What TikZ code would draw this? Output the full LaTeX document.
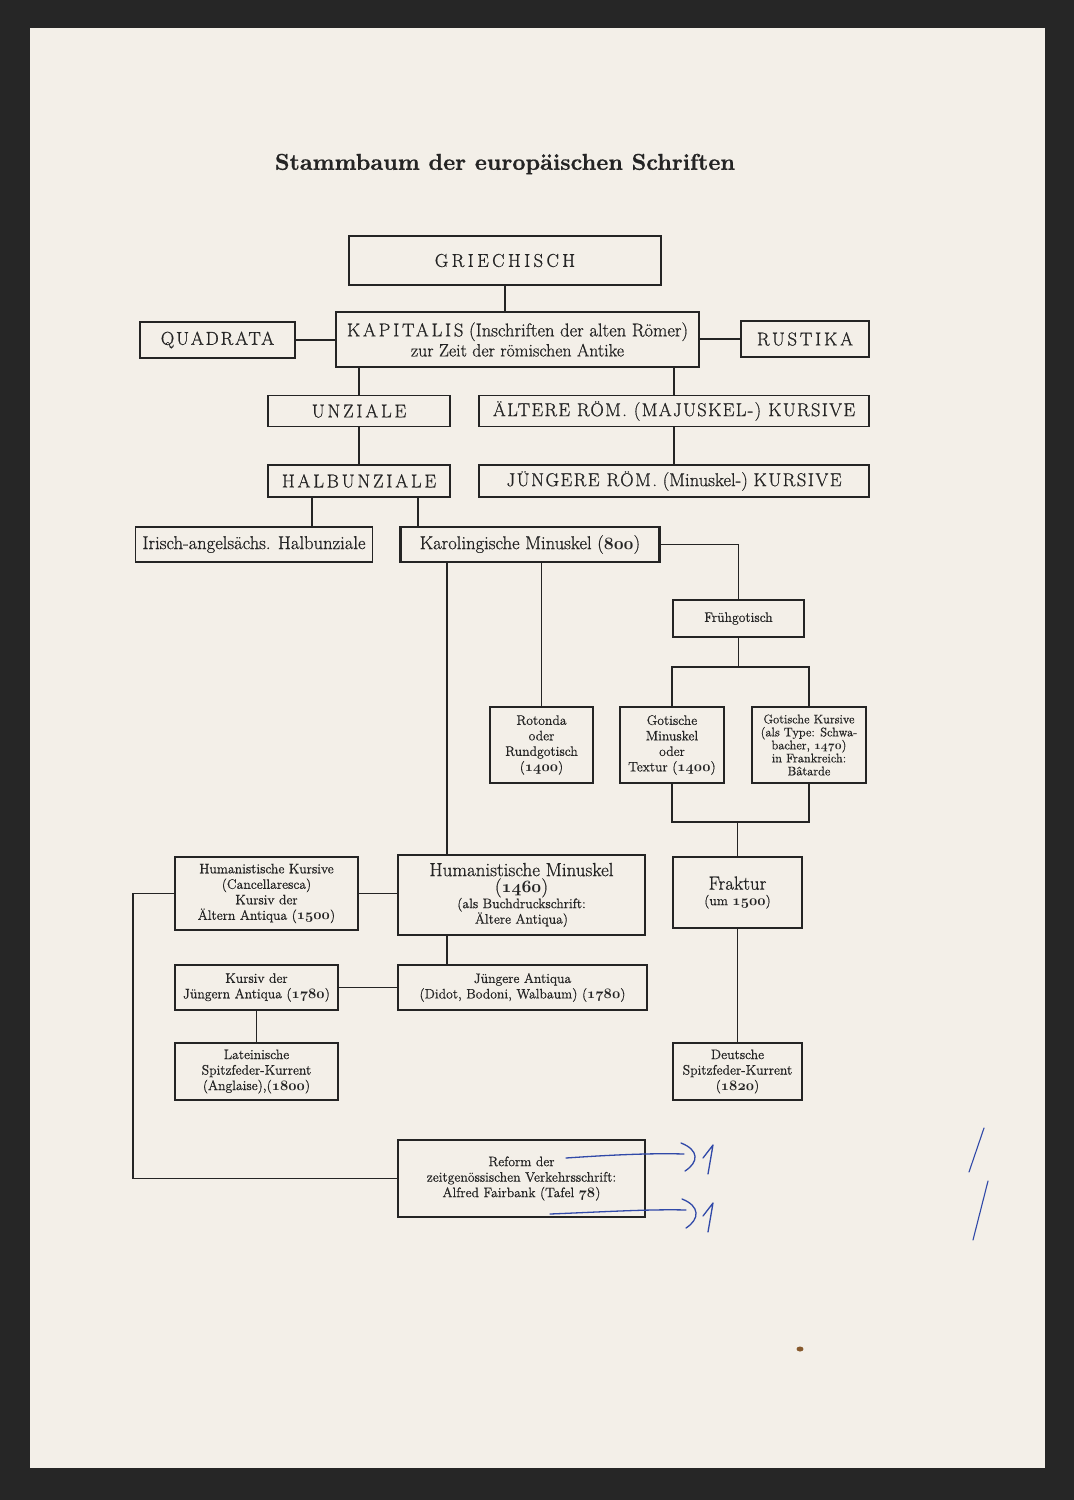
\documentclass[tikz,border=0pt]{standalone}
\usepackage{fontspec}
\setmainfont{Latin Modern Roman}[FakeBold=0.7]
\usepackage{graphicx}
\definecolor{paper}{HTML}{F3EFE8}
\definecolor{frame}{HTML}{262626}
\definecolor{ink}{HTML}{242424}
\definecolor{pen}{HTML}{3049A8}
\newcommand\spaced[2][15]{{\addfontfeature{LetterSpace=#1}#2}}
\newcommand\osn[1]{{\usefont{OML}{cmm}{b}{it}#1}}
\begin{document}
\begin{tikzpicture}[x=1pt,y=-1pt,
    box/.style={draw=ink,line width=1.1pt,inner sep=0pt,align=center,text=ink,
      font=\fontsize{13.7}{15.5}\selectfont},
    bigbox/.style={box,font=\fontsize{18.6}{20}\selectfont},
    heavy/.style={line width=2.4pt},
    link/.style={draw=ink,line width=1.2pt},
    trunk/.style={link,line width=1.9pt},
    hand/.style={draw=pen,line width=1.3pt,line cap=round,line join=round}]
\useasboundingbox (0,0) rectangle (1074,1500);
\fill[frame] (0,0) rectangle (1074,1500);
\fill[paper] (30,28) rectangle (1045,1468);

\node[text=ink] (title) at (505,164)
  {\resizebox{460pt}{!}{\bfseries Stammbaum der europäischen Schriften}};

% Antike
\node[bigbox,minimum width=312,minimum height=49] (griech) at (505,260.5) {\spaced[18]{GRIECHISCH}};
\node[bigbox,minimum width=155,minimum height=36] (quad) at (217.5,340) {\spaced[10]{QUADRATA}};
\node[bigbox,heavy,minimum width=363,minimum height=55] (kap) at (517.5,339.5)
  {\spaced{KAPITALIS} (Inschriften der alten Römer)\\ {\fontsize{17.8}{20}\selectfont zur Zeit der römischen Antike}};
\node[bigbox,minimum width=128,minimum height=36] (rust) at (805,339) {\spaced{RUSTIKA}};
\node[bigbox,minimum width=182,minimum height=31] (unz) at (359,411) {\spaced{UNZIALE}};
\node[bigbox,minimum width=390,minimum height=31] (aelt) at (674,411) {\spaced[7]{ÄLTERE RÖM. (MAJUSKEL-) KURSIVE}};
\node[bigbox,minimum width=182,minimum height=32] (halb) at (359,481) {\spaced{HALBUNZIALE}};
\node[bigbox,minimum width=390,minimum height=32] (jung) at (674,481)
  {\spaced[8]{JÜNGERE RÖM.} (Minuskel-) \spaced[8]{KURSIVE}};

% Mittelalter
\node[bigbox,minimum width=237,minimum height=35] (iri) at (254,544.5) {Irisch-angelsächs. Halbunziale};
\node[bigbox,heavy,minimum width=259,minimum height=35] (karo) at (530,544.5) {Karolingische Minuskel (\osn{800})};
\node[box,minimum width=131,minimum height=37] (frueh) at (738.5,618.5) {Frühgotisch};
\node[box,minimum width=103,minimum height=76] (roto) at (541.5,745) {Rotonda\\ oder\\ Rundgotisch\\ (\osn{1400})};
\node[box,minimum width=104,minimum height=76] (gotmin) at (672,745) {Gotische\\ Minuskel\\ oder\\ Textur (\osn{1400})};
\node[box,minimum width=114,minimum height=76,font=\fontsize{12.5}{13}\selectfont] (gotkur) at (809,745)
  {Gotische Kursive\\ (als Type: Schwa-\\ bacher, \osn{1470})\\ in Frankreich:\\ Bâtarde};

% Neuzeit
\node[box,minimum width=183,minimum height=73] (humkur) at (266.5,893.5)
  {Humanistische Kursive\\ (Cancellaresca)\\ Kursiv der\\ Ältern Antiqua (\osn{1500})};
\node[box,heavy,minimum width=247,minimum height=80] (hummin) at (521.5,895)
  {{\fontsize{19}{18}\selectfont Humanistische Minuskel}\\[1pt]
   {\fontsize{19}{18}\selectfont(\osn{1460})}\\ (als Buchdruckschrift:\\ Ältere Antiqua)};
\node[box,minimum width=129,minimum height=71] (frak) at (737.5,892.5)
  {{\fontsize{19}{18}\selectfont Fraktur}\\ (um \osn{1500})};
\node[box,minimum width=163,minimum height=45] (kjung) at (256.5,987.5) {Kursiv der\\ Jüngern Antiqua (\osn{1780})};
\node[box,minimum width=249,minimum height=45] (jant) at (522.5,987.5) {Jüngere Antiqua\\ (Didot, Bodoni, Walbaum) (\osn{1780})};
\node[box,minimum width=163,minimum height=57] (latein) at (256.5,1071.5) {Lateinische\\ Spitzfeder-Kurrent\\ (Anglaise),(\osn{1800})};
\node[box,minimum width=129,minimum height=57] (deut) at (737.5,1071.5) {Deutsche\\ Spitzfeder-Kurrent\\ (\osn{1820})};
\node[box,heavy,minimum width=247,minimum height=77] (reform) at (521.5,1178.5)
  {Reform der\\ zeitgenössischen Verkehrsschrift:\\ Alfred Fairbank (Tafel \osn{78})};

% Verbindungen
\draw[link] (griech.south) -- (griech.south |- kap.north);
\draw[link] (quad.east) -- (quad.east -| kap.west);
\draw[link] (rust.west) -- (rust.west -| kap.east);
\draw[link] (unz.north) -- (unz.north |- kap.south);
\draw[link] (aelt.north) -- (aelt.north |- kap.south);
\draw[link] (unz.south) -- (halb.north);
\draw[link] (aelt.south) -- (jung.north);
\draw[link] (312,0 |- halb.south) -- (312,0 |- iri.north);
\draw[link] (418,0 |- halb.south) -- (418,0 |- karo.north);
\draw[link] (karo.east) -| (frueh.north);
\coordinate (fsplit) at (738.5,667);
\draw[link] (frueh.south) -- (fsplit);
\draw[link] (gotmin.north) |- (fsplit) -| (gotkur.north);
\draw[link] (roto.north) -- (roto.north |- karo.south);
\draw[trunk] (447,0 |- karo.south) -- (447,0 |- hummin.north);
\coordinate (gjoin) at (737.5,822);
\draw[link] (gotmin.south) |- (gjoin) -| (gotkur.south);
\draw[link] (gjoin) -- (frak.north);
\draw[link] (frak.south) -- (deut.north);
\draw[link] (humkur.east) -- (humkur.east -| hummin.west);
\draw[trunk] (447,0 |- hummin.south) -- (447,0 |- jant.north);
\draw[link] (kjung.east) -- (jant.west);
\draw[link] (kjung.south) -- (latein.north);
\draw[link] (humkur.west) -- (133,0 |- humkur.west) |- (reform.west);

% Randnotizen
\draw[hand] (566,1158) .. controls (610,1155) and (650,1153) .. (684,1154);
\draw[hand] (681,1143) .. controls (699,1150) and (699,1162) .. (685,1171);
\draw[hand] (703,1158) -- (713,1145) -- (708,1174);
\draw[hand] (550,1214) .. controls (600,1212) and (650,1209) .. (686,1210);
\draw[hand] (682,1199) .. controls (700,1206) and (700,1219) .. (686,1228);
\draw[hand] (703,1216) -- (713,1203) -- (708,1232);
\draw[hand,line width=1.1pt] (984,1128) -- (969,1172);
\draw[hand,line width=1.1pt] (988,1181) -- (973,1240);
\fill[brown!70!black] (800,1349) ellipse (3.5 and 2.5);
\end{tikzpicture}
\end{document}
